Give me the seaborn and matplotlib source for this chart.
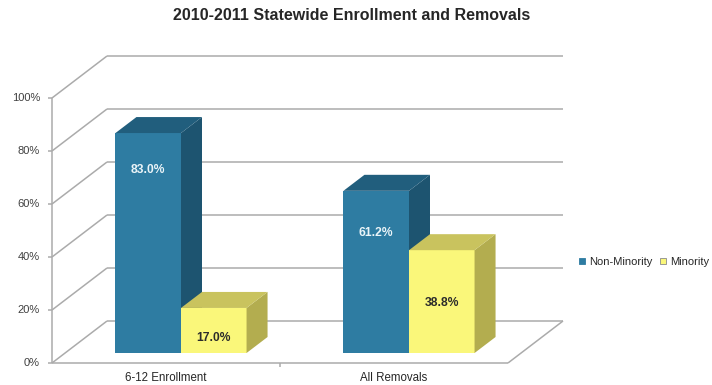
import matplotlib
matplotlib.use("Agg")
import matplotlib.pyplot as plt
from matplotlib.patches import Polygon
from matplotlib.lines import Line2D
import pandas as pd
import seaborn as sns

# ---- data ----
categories = ["6-12 Enrollment", "All Removals"]
groups = ["Non-Minority", "Minority"]
non_minority = [83.0, 61.2]
minority = [17.0, 38.8]
y_ticks = [0, 20, 40, 60, 80, 100]
y_tick_labels = ["0%", "20%", "40%", "60%", "80%", "100%"]
title = "2010-2011 Statewide Enrollment and Removals"

df = pd.DataFrame({
    "category": categories * 2,
    "group": [groups[0]] * len(categories) + [groups[1]] * len(categories),
    "share": non_minority + minority,
})

# ---- styling ----
front_colors = {"Non-Minority": "#2E7CA2", "Minority": "#FAF77A"}
top_colors = {"Non-Minority": "#215E7D", "Minority": "#C9C35E"}
side_colors = {"Non-Minority": "#1D5470", "Minority": "#B3AD4F"}
label_colors = {"Non-Minority": "#EAF4F8", "Minority": "#2B2B2B"}
grid_color = "#ABABAB"

sns.set_theme(style="white")
plt.rcParams["font.family"] = ["Liberation Sans", "DejaVu Sans"]

W, H = 712, 385
PX_PER_CAT = 228.0      # horizontal pixels per category step
PX_PER_PCT = 2.65       # vertical pixels per percentage point
CAT0_PX = 181.0         # pixel x of the first category centre (bar plane)
BASE_PX = 353.0         # pixel y of 0% on the bar plane

fig = plt.figure(figsize=(W / 100, H / 100), dpi=100)
ax = fig.add_axes([0, 0, 1, 1])

sns.barplot(data=df, x="category", y="share", hue="group",
            order=categories, hue_order=groups, palette=front_colors,
            width=0.575, dodge=True, saturation=1, legend=False,
            linewidth=0, ax=ax)

ax.set_xlim(-CAT0_PX / PX_PER_CAT, (W - CAT0_PX) / PX_PER_CAT)
ax.set_ylim((BASE_PX - H) / PX_PER_PCT, BASE_PX / PX_PER_PCT)
ax.axis("off")


def offset(dx_px, dy_px):
    """Screen-pixel offset converted to data units (y pixels grow downward)."""
    return dx_px / PX_PER_CAT, -dy_px / PX_PER_PCT


fdx, fdy = offset(-15, 10)    # front plane of the chart box
bdx, bdy = offset(40, -32)    # back wall
ddx, ddy = offset(21, -16)    # depth of each bar

x_left, x_right = -0.5, len(categories) - 0.5
line_kw = dict(color=grid_color, lw=1.1, zorder=1, solid_capstyle="butt")

# back wall gridlines and left wall diagonals
for v in y_ticks:
    ax.plot([x_left + bdx, x_right + bdx], [v + bdy, v + bdy], **line_kw)
    ax.plot([x_left + fdx, x_left + bdx], [v + fdy, v + bdy], **line_kw)

# value axis with ticks and labels
ax.plot([x_left + fdx, x_left + fdx], [y_ticks[0] + fdy, y_ticks[-1] + fdy], **line_kw)
tick_len, _ = offset(4, 0)
lab_gap, _ = offset(12, 0)
for v, lab in zip(y_ticks, y_tick_labels):
    ax.plot([x_left + fdx - tick_len, x_left + fdx], [v + fdy, v + fdy], **line_kw)
    ax.text(x_left + fdx - lab_gap, v + fdy, lab, ha="right", va="center",
            fontsize=8, color="#404040")

# floor outline
ax.plot([x_left + fdx, x_right + fdx], [fdy, fdy], **line_kw)
ax.plot([x_right + fdx, x_right + bdx], [fdy, bdy], **line_kw)
_, tick_dn = offset(0, 4)
for b in range(1, len(categories)):
    xb = b - 0.5 + fdx
    ax.plot([xb, xb], [fdy, fdy + tick_dn], **line_kw)

# category labels under the floor
_, cat_dy = offset(0, 25)
for i, cat in enumerate(categories):
    ax.text(i + fdx, cat_dy, cat, ha="center", va="center",
            fontsize=8.3, color="#262626")

# extrude every bar into a box and label it
n_cat = len(categories)
for k, patch in enumerate(ax.patches[: n_cat * len(groups)]):
    grp = groups[k // n_cat]
    z = 2 + k // n_cat
    x0 = patch.get_x()
    x1 = x0 + patch.get_width()
    h = patch.get_height()
    patch.set_zorder(z)
    top = Polygon([(x0, h), (x1, h), (x1 + ddx, h + ddy), (x0 + ddx, h + ddy)],
                  closed=True, facecolor=top_colors[grp], edgecolor="none", zorder=z)
    side = Polygon([(x1, 0), (x1, h), (x1 + ddx, h + ddy), (x1 + ddx, ddy)],
                   closed=True, facecolor=side_colors[grp], edgecolor="none", zorder=z)
    ax.add_patch(side)
    ax.add_patch(top)
    if grp == "Non-Minority":
        ly = h * 1.09 - 21.4
    else:
        ly = h * 0.6 - 4.6
    ax.text((x0 + x1) / 2, ly, f"{h:.1f}%", ha="center", va="center",
            fontsize=8.7, fontweight="bold", color=label_colors[grp], zorder=5)

# legend
handles = [Line2D([], [], marker="s", linestyle="", markersize=5,
                  markerfacecolor=front_colors[g],
                  markeredgecolor="#8A8A8A" if g == "Minority" else front_colors[g],
                  markeredgewidth=0.6)
           for g in groups]
ax.legend(handles, groups, loc="center left",
          bbox_to_anchor=(579 / W, 1 - 262 / H), ncol=2, frameon=False,
          fontsize=8, handlelength=0.6, handletextpad=0.3, columnspacing=0.7,
          borderpad=0, borderaxespad=0, labelcolor="#262626")

fig.text(352 / W, 1 - 16 / H, title, ha="center", va="center",
         fontsize=11.5, fontweight="bold", color="#262626")

fig.savefig("out.png", dpi=100)
